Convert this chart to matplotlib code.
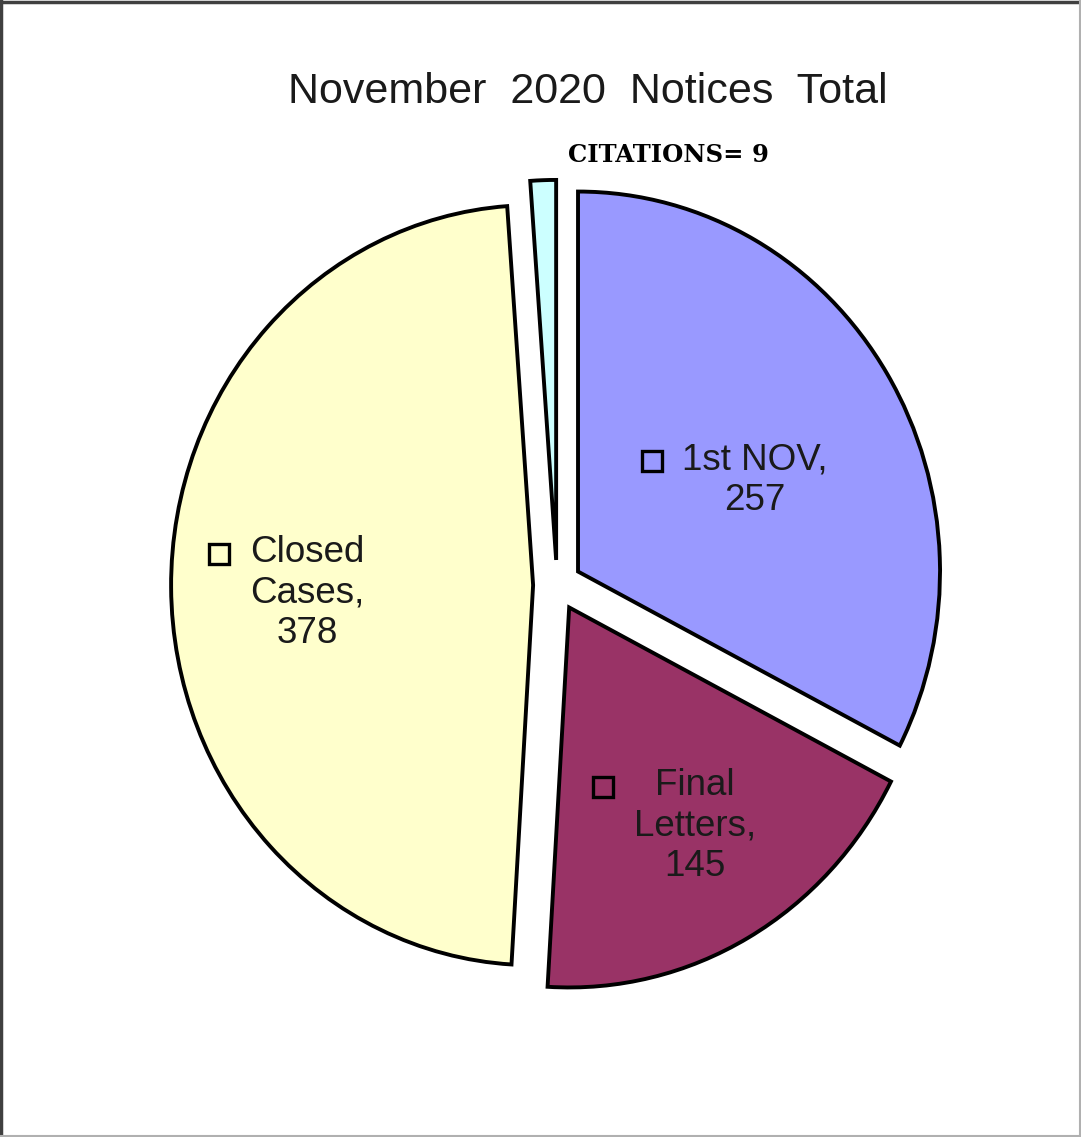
import numpy as np
import matplotlib
matplotlib.use("Agg")
import matplotlib.pyplot as plt
from matplotlib.lines import Line2D

# data
names = ["1st NOV", "Final\nLetters", "Closed\nCases", "CITATIONS"]
counts = [257, 145, 378, 9]
colors = ["#9999FF", "#993366", "#FFFFCC", "#CCFFFF"]
explode = [0.068, 0.068, 0.066, 0.066]
# label block centres (data units, pie centre = 0,0)
lab_xy = [(0.547, 0.276), (0.381, -0.634), (-0.691, -0.021)]

W, H = 1081, 1137
fig = plt.figure(figsize=(W / 100, H / 100), dpi=100)
fig.patch.set_facecolor("white")

# pie is slightly squashed sideways: 362 px per unit across, 380 px up
rx, ry = 362.0, 380.0
cx, cy = 557.0, H - 585.0
lim = 1.3
ax = fig.add_axes([(cx - lim * rx) / W, (cy - lim * ry) / H,
                   2 * lim * rx / W, 2 * lim * ry / H])

wedges, _ = ax.pie(counts, colors=colors, explode=explode, startangle=90,
                   counterclock=False, radius=1.0,
                   wedgeprops=dict(edgecolor="black", linewidth=2.8),
                   frame=True)
ax.set_xlim(-lim, lim)
ax.set_ylim(-lim, lim)
ax.set_aspect("auto")
ax.axis("off")

font = "Liberation Sans"
texts = []
for i in range(3):
    s = names[i] + ",\n" + str(counts[i])
    t = ax.text(lab_xy[i][0], lab_xy[i][1], s, ha="center", va="center",
                fontsize=26.5, family=font, color="#1a1a1a",
                linespacing=1.2, multialignment="center")
    texts.append(t)

# legend-key squares left of each label block
fig.canvas.draw()
r = fig.canvas.get_renderer()
inv = ax.transData.inverted()
for i, t in enumerate(texts):
    bb = t.get_window_extent(r)
    nl = t.get_text().count("\n") + 1
    lh = bb.height / nl
    px = bb.x0 - 20 - 10.5
    py = bb.y1 - lh * 0.5
    dx, dy = inv.transform((px, py))
    ax.plot([dx], [dy], marker="s", markersize=14, markerfacecolor=colors[i],
            markeredgecolor="black", markeredgewidth=2.4, linestyle="none")

ax.text(0.309, 1.132, "CITATIONS= " + str(counts[3]), ha="center", va="center",
        fontsize=17.5, family="DejaVu Serif", fontweight="bold", color="black")

fig.text(588 / W, 1 - 92 / H, "November  2020  Notices  Total", ha="center",
         va="center", fontsize=31, family=font, color="#1a1a1a")

# outer frame: dark top/left, light bottom/right
fig.add_artist(Line2D([0.5 / W, 0.5 / W], [0, 1], transform=fig.transFigure,
                      color="#404040", linewidth=2.5))
fig.add_artist(Line2D([0, 1], [1 - 1.5 / H, 1 - 1.5 / H], transform=fig.transFigure,
                      color="#404040", linewidth=2.5))
fig.add_artist(Line2D([1 - 1.5 / W, 1 - 1.5 / W], [0, 1], transform=fig.transFigure,
                      color="#b0b0b0", linewidth=1.5))
fig.add_artist(Line2D([0, 1], [1.0 / H, 1.0 / H], transform=fig.transFigure,
                      color="#b0b0b0", linewidth=1.5))

fig.savefig("out.png", dpi=100, facecolor="white")
